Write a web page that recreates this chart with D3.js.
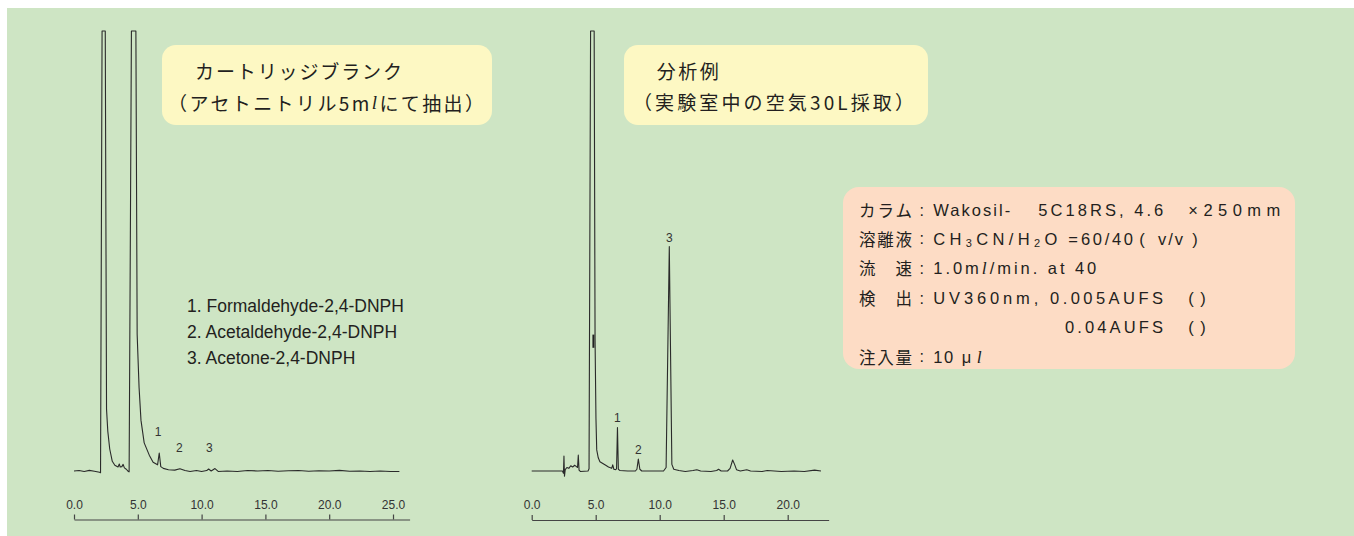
<!DOCTYPE html>
<html>
<head>
<meta charset="utf-8">
<script src="https://cdn.jsdelivr.net/npm/d3@7"></script>
<style>
  html, body { margin: 0; padding: 0; background: #ffffff; }
  svg { display: block; }
</style>
</head>
<body>
<svg id="chart" width="1354" height="536"></svg>
<script>
// ---- Cartridge blank chromatogram (retention time, min / detector signal, % of full scale)
const blankTime = [0, 0.4, 0.8, 1.2, 1.6, 2.0, 2.08, 2.2, 2.45, 2.55, 2.65, 2.8, 3.0, 3.2, 3.45, 3.55, 3.62, 3.75, 3.85, 3.95, 4.1, 4.25, 4.32, 4.5, 4.85, 4.95, 5.1, 5.25, 5.5, 5.9, 6.2, 6.55, 6.68, 6.8, 7.0, 7.4, 7.9, 8.3, 8.7, 9.1, 9.6, 10.0, 10.4, 10.55, 10.75, 11.05, 11.3, 12.0, 12.8, 13.6, 14.4, 15.2, 16.0, 16.8, 17.6, 18.4, 19.2, 20.0, 20.8, 21.6, 22.4, 23.2, 24.0, 24.8, 25.5];
const blankSignal = [0, 0.1, -0.1, 0.15, -0.05, -0.3, -0.4, 100, 100, 14, 9, 5, 2.2, 1.3, 0.9, 1.6, 0.9, 1.0, 1.5, 0.7, 0.4, -0.1, -0.2, 100, 100, 31, 19, 11.5, 6.4, 3.6, 2.0, 1.4, 4.1, 1.0, 0.6, 0.3, 0.2, 0.5, 0.1, -0.1, 0.1, -0.1, 0.1, 0.45, 0.0, 0.55, -0.1, 0.0, -0.1, 0.1, 0.0, 0.1, -0.05, 0.05, 0.1, -0.05, 0.05, 0.0, 0.15, -0.05, 0.0, -0.1, 0.0, -0.1, -0.1];
const blankPeakIds = ["1", "2", "3"];
const blankPeakTimes = [6.6, 8.25, 10.6];
const blankTicks = [0, 5, 10, 15, 20, 25];

// ---- Indoor air sample chromatogram (30 L)
const sampleTime = [0, 1.0, 2.0, 2.4, 2.48, 2.52, 2.56, 2.62, 2.75, 2.9, 3.05, 3.2, 3.35, 3.5, 3.58, 3.64, 3.7, 3.8, 4.4, 4.48, 4.6, 4.88, 4.95, 5.02, 5.08, 5.2, 5.33, 5.72, 6.0, 6.25, 6.33, 6.42, 6.55, 6.63, 6.7, 6.77, 6.9, 7.5, 8.1, 8.22, 8.33, 8.45, 8.6, 9.5, 10.3, 10.5, 10.75, 10.95, 11.1, 11.5, 12.0, 12.6, 12.9, 13.2, 14.0, 14.45, 14.6, 14.8, 15.3, 15.5, 15.7, 15.85, 16.0, 16.3, 16.8, 17.1, 18.0, 18.4, 19.5, 20.5, 21.3, 22.1, 22.6];
const sampleSignal = [0, 0, 0, 0, -0.5, 3.4, -1.2, 0.3, 0.8, 0.6, 1.2, 0.9, 1.3, 1.0, 0.8, 3.6, 0.2, -0.1, 0, 0.5, 100, 100, 30, 12, 4.8, 3.0, 2.1, 1.4, 0.9, 0.6, 1.4, 0.4, 0.3, 0.5, 9.9, 0.4, 0.1, 0, 0, 0.4, 2.7, 0.4, 0, 0, 0, 0.8, 51, 1.5, 0.4, 0.1, -0.1, 0.1, 0.3, 0, -0.1, 0.1, 0.4, 0, 0, 0.6, 2.5, 1.5, 0.3, 0, 0.3, 0, -0.1, 0.1, -0.1, 0, -0.1, 0.2, 0];
const samplePeakIds = ["1", "2", "3"];
const samplePeakTimes = [6.7, 8.33, 10.75];
const sampleTicks = [0, 5, 10, 15, 20];
// attenuation change marked on the solvent peak
const attenMarkTime = 4.9;
const attenMarkRange = [28, 31];

// ---- Texts
const compounds = ["1. Formaldehyde-2,4-DNPH", "2. Acetaldehyde-2,4-DNPH", "3. Acetone-2,4-DNPH"];
const blankTitle = ["カートリッジブランク", "（アセトニトリル5m", "l", "にて抽出）"];
const sampleTitle = ["分析例", "（実験室中の空気30L採取）"];
const conditionLabels = ["カラム", "溶離液", "流　速", "検　出", "", "注入量"];

const svg = d3.select("#chart");
const LATIN = "'Liberation Sans', Arial, Helvetica, sans-serif";
const CJK = "'Noto Sans CJK JP', 'Noto Sans CJK SC', sans-serif";
const INK = "#231f20";

// page background
svg.append("rect").attr("x", 7).attr("y", 8).attr("width", 1347).attr("height", 528).attr("fill", "#cee5c4");

// ---- chromatogram panel
function drawPanel(opt) {
  const x = d3.scaleLinear().domain([0, opt.maxTime]).range([opt.x0, opt.x0 + opt.maxTime * opt.pxPerMin]);
  const y = d3.scaleLinear().domain([0, 100]).range([471, 31]);
  const g = svg.append("g");

  const pts = d3.zip(opt.time, opt.signal);
  g.append("path")
    .datum(pts)
    .attr("d", d3.line().x(d => x(d[0])).y(d => y(d[1])))
    .attr("fill", "none")
    .attr("stroke", "#2a2a2a")
    .attr("stroke-width", 1.1)
    .attr("stroke-linejoin", "round");

  // axis: ticks and labels above the line
  const axis = d3.axisTop(x)
    .tickValues(opt.ticks)
    .tickFormat(d3.format(".1f"))
    .tickSize(5)
    .tickSizeOuter(0)
    .tickPadding(6);
  const ax = g.append("g").attr("transform", `translate(0,${opt.axisY})`).call(axis);
  ax.select(".domain").attr("stroke", "#444").attr("stroke-width", 1.2);
  ax.selectAll(".tick line").attr("stroke", "#444").attr("stroke-width", 1.2);
  ax.selectAll(".tick text").attr("fill", "#333").attr("font-family", LATIN).attr("font-size", 12);

  // peak numbers
  const sigAt = t => {
    let best = -Infinity;
    opt.time.forEach((tt, i) => { if (Math.abs(tt - t) <= 0.2) best = Math.max(best, opt.signal[i]); });
    return best;
  };
  g.selectAll("text.peak")
    .data(d3.zip(opt.peakIds, opt.peakTimes))
    .join("text")
    .attr("class", "peak")
    .attr("x", d => x(d[1]))
    .attr("y", d => y(sigAt(d[1])) - opt.labelGap)
    .attr("text-anchor", "middle")
    .attr("dominant-baseline", "central")
    .attr("font-family", LATIN)
    .attr("font-size", 12)
    .attr("fill", "#333")
    .text(d => d[0]);
  return { x, y, g };
}

drawPanel({
  time: blankTime, signal: blankSignal, ticks: blankTicks, maxTime: 26.3,
  x0: 74, pxPerMin: 12.76, axisY: 519.5,
  peakIds: blankPeakIds, peakTimes: blankPeakTimes, labelGap: 21
});
const right = drawPanel({
  time: sampleTime, signal: sampleSignal, ticks: sampleTicks, maxTime: 23.2,
  x0: 531.7, pxPerMin: 12.8, axisY: 520,
  peakIds: samplePeakIds, peakTimes: samplePeakTimes, labelGap: 9
});
right.g.append("line")
  .attr("x1", right.x(attenMarkTime) - 1).attr("x2", right.x(attenMarkTime) - 1)
  .attr("y1", right.y(attenMarkRange[0])).attr("y2", right.y(attenMarkRange[1]))
  .attr("stroke", "#222").attr("stroke-width", 2);

// ---- compound legend
svg.append("g").selectAll("text")
  .data(compounds)
  .join("text")
  .attr("x", 187)
  .attr("y", (d, i) => 306 + i * 26.2)
  .attr("dominant-baseline", "central")
  .attr("font-family", LATIN)
  .attr("font-size", 17.5)
  .attr("fill", INK)
  .text(d => d);

// ---- title boxes
function titleBox(bx, by, bw, bh) {
  svg.append("rect").attr("x", bx).attr("y", by).attr("width", bw).attr("height", bh)
    .attr("rx", 14).attr("fill", "#fdf8c3");
}
titleBox(162, 45, 330, 80);
titleBox(624, 45, 304, 80);

function cjkText(str, x, y, len, size) {
  const t = svg.append("text").attr("x", x).attr("y", y)
    .attr("dominant-baseline", "central")
    .attr("font-family", CJK).attr("font-size", size || 19).attr("fill", INK)
    .text(str);
  if (len) t.attr("textLength", len).attr("lengthAdjust", "spacing");
  return t;
}
cjkText(blankTitle[0], 195, 70, 207);
{
  const t = svg.append("text").attr("x", 168).attr("y", 101.7)
    .attr("dominant-baseline", "central")
    .attr("font-family", CJK).attr("font-size", 19).attr("fill", INK)
    .attr("textLength", 316).attr("lengthAdjust", "spacing");
  t.append("tspan").text(blankTitle[1]);
  t.append("tspan").attr("font-family", "'Liberation Serif', serif").attr("font-style", "italic").text(blankTitle[2]);
  t.append("tspan").text(blankTitle[3]);
}
cjkText(sampleTitle[0], 656.7, 70, 62);
cjkText(sampleTitle[1], 633, 101.7, 281);

// ---- chromatographic conditions box
svg.append("rect").attr("x", 843).attr("y", 187).attr("width", 452).attr("height", 182)
  .attr("rx", 16).attr("fill", "#fddcc5");

const rowY = [210, 238.5, 268.3, 298.3, 326.7, 356.7];
conditionLabels.forEach((lab, i) => {
  if (lab) {
    cjkText(lab, 859, rowY[i], 53, 16.5);
    svg.append("text").attr("x", 921.7).attr("y", rowY[i]).attr("text-anchor", "middle")
      .attr("dominant-baseline", "central").attr("font-family", LATIN).attr("font-size", 16)
      .attr("fill", INK).text(":");
  }
});

// one run of condition text; parts may carry subscript / italic flags
function seg(parts, x, y, len, anchor) {
  const t = svg.append("text").attr("x", x).attr("y", y)
    .attr("dominant-baseline", "central")
    .attr("font-family", LATIN).attr("font-size", 16.5).attr("fill", INK);
  if (anchor) t.attr("text-anchor", anchor);
  [].concat(parts).forEach(p => {
    const o = typeof p === "string" ? { t: p } : p;
    const s = t.append("tspan").text(o.t);
    if (o.isSub) s.attr("font-size", 11).attr("dy", 4);
    if (o.back) s.attr("dy", -4);
    if (o.it) s.attr("font-family", "'Liberation Serif', serif").attr("font-style", "italic").attr("font-size", 17.5);
  });
  if (len) t.attr("textLength", len).attr("lengthAdjust", "spacing");
  return t;
}
// row 1: column
seg("Wakosil-", 933.3, rowY[0], 77);
seg("5C18RS, 4.6", 1038.3, rowY[0], 125);
seg("×250mm", 1188.3, rowY[0], 92);
// row 2: eluent
seg(["CH", { t: "3", isSub: true }, { t: "CN/H", back: true }, { t: "2", isSub: true }, { t: "O", back: true }], 933.3, rowY[1], 124);
seg("=", 1073, rowY[1], null, "middle");
seg("60/40", 1081, rowY[1], 52);
seg("(", 1142, rowY[1], null, "middle");
seg("v/v", 1158, rowY[1], 25);
seg(")", 1195, rowY[1], null, "middle");
// row 3: flow rate
seg(["1.0m", { t: "l", it: true }, "/min. at 40"], 933.3, rowY[2], 163);
// row 4-5: detection
seg("UV360nm,", 933.3, rowY[3], 105);
seg("0.005AUFS", 1050, rowY[3], 113);
seg("(", 1191, rowY[3], null, "middle");
seg(")", 1203, rowY[3], null, "middle");
seg("0.04AUFS", 1065, rowY[4], 98);
seg("(", 1191, rowY[4], null, "middle");
seg(")", 1203, rowY[4], null, "middle");
// row 6: injection volume
seg("10", 933.3, rowY[5], 20);
seg("μ", 961.7, rowY[5]);
seg([{ t: "l", it: true }], 976.7, rowY[5]);
</script>
</body>
</html>
